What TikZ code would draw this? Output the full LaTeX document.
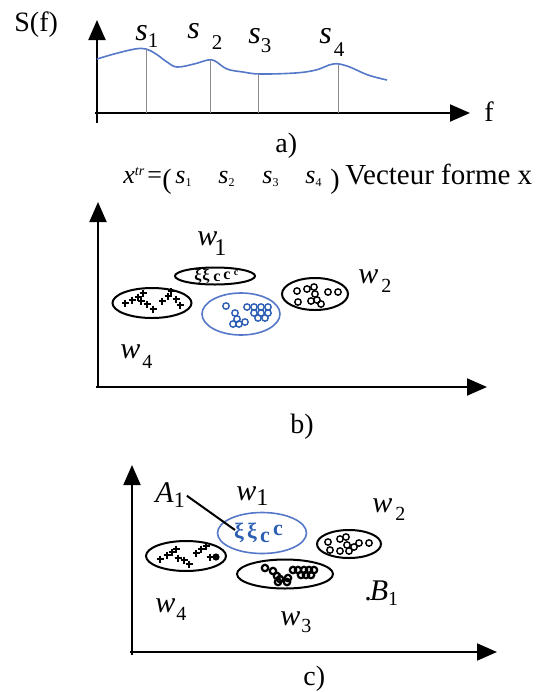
\documentclass[tikz,border=0pt]{standalone}
\usepackage{fontspec}
\setmainfont{Liberation Serif}
\usetikzlibrary{arrows.meta,shapes.geometric}
\definecolor{curveblue}{RGB}{85,120,200}
\definecolor{markblue}{RGB}{45,95,180}
\newcommand{\fs}[1]{\fontsize{#1}{#1}\selectfont}
\begin{document}
\begin{tikzpicture}[x=0.5pt,y=-0.5pt,
  axis/.style={line width=1pt,-{Triangle[length=10pt,width=8.5pt]}},
  guide/.style={black!45,line width=0.4pt},
  spectrum/.style={curveblue,line width=0.8pt},
  clus/.style={ellipse,draw,line width=1pt,inner sep=0pt},
  bclus/.style={clus,draw=curveblue,line width=0.8pt},
  txt/.style={inner sep=0pt,anchor=base west},
  pointer/.style={line width=1pt},
  crossmk/.style={line width=0.8pt},
  circmk/.style={line width=0.7pt},
  glyph/.style={inner sep=0pt,font=\fs{8}\bfseries},
]
\useasboundingbox (0,0) rectangle (544,692);

% ---------------- panel a ----------------
\coordinate (aYb) at (97,123);
\coordinate (aYt) at (97,20);
\coordinate (aXl) at (95,113);
\coordinate (aXt) at (470,113);
\draw[axis] (aYb) -- (aYt);
\draw[axis] (aXl) -- (aXt);
\draw[spectrum] plot[smooth,tension=0.6] coordinates {(97,59) (114,54) (135,49) (146,49) (156,54) (167,62) (177,67) (194,64) (208,60) (215,61) (227,69) (243,72) (260,74) (295,73) (316,70) (333,64) (347,66) (368,75) (387,80)};
\foreach \x/\y [count=\i] in {146/49, 210/60, 258/74, 338/65}{
  \coordinate (gt\i) at (\x,\y);
  \coordinate (gb\i) at (\x,113);
  \draw[guide] (gt\i) -- (gb\i);
}
\node[txt,font=\fs{14}] (Sf) at (14,31) {S(f)};
\node[txt,font=\fs{14}] (flab) at (484,121) {f};
\node[txt,font=\fs{16}] (s1) at (135,40) {\textit{s}\raisebox{-3.5pt}{\fs{10.5}1}};
\node[txt,font=\fs{16}] (s2) at (187,38) {\textit{s}\hspace{6pt}\raisebox{-5.5pt}{\fs{10.5}2}};
\node[txt,font=\fs{16}] (s3) at (248,43) {\textit{s}\raisebox{-4.5pt}{\fs{10.5}3}};
\node[txt,font=\fs{16}] (s4) at (319,43) {\textit{s}\hspace{1pt}\raisebox{-6.5pt}{\fs{10.5}4}};
\node[txt,font=\fs{14}] (la) at (275,152) {a)};

% ---------------- panel b ----------------
\coordinate (bYb) at (98,387);
\coordinate (bYt) at (98,202);
\coordinate (bXl) at (96,387);
\coordinate (bXt) at (487,387);
\draw[axis] (bYb) -- (bYt);
\draw[axis] (bXl) -- (bXt);

\node[txt,font=\fs{13}] (vx) at (123,183) {\textit{x}\raisebox{4pt}{\fs{7}\textit{tr}}};
\node[txt,font=\fs{13}] (veq) at (147,183) {=};
\node[txt,font=\fs{14}] (vlp) at (162,188) {(};
\node[txt,font=\fs{13}] (vs1) at (175,183) {\textit{s}\raisebox{-1.5pt}{\fs{6}1}};
\node[txt,font=\fs{13}] (vs2) at (218,183) {\textit{s}\raisebox{-1.5pt}{\fs{6}2}};
\node[txt,font=\fs{13}] (vs3) at (262,183) {\textit{s}\raisebox{-1.5pt}{\fs{6}3}};
\node[txt,font=\fs{13}] (vs4) at (305,183) {\textit{s}\raisebox{-1.5pt}{\fs{6}4}};
\node[txt,font=\fs{14}] (vrp) at (330,188) {)};
\node[txt,font=\fs{14.5}] (vname) at (345,184) {Vecteur forme x};

\node[clus,minimum width=40pt,minimum height=8.5pt] (bw1) at (215,276) {};
\node[clus,minimum width=39.5pt,minimum height=15pt] (bw4) at (152,303) {};
\node[bclus,minimum width=39pt,minimum height=21pt] (bwb) at (241,314) {};
\node[clus,minimum width=33pt,minimum height=16pt] (bw2) at (315,294) {};

\foreach \x/\y/\t [count=\i] in {198/276/ξ, 206/276/ξ, 217/278/c, 227/276/c, 236/273/\fs{5}c}
  \node[glyph] (bm\i) at (\x,\y) {\t};
\foreach \x/\y in {125/303, 132/300, 138/297, 143/293, 141/301, 147/304, 153/309, 162/301, 168/296, 171/291, 176/299, 180/305}
  \draw[crossmk] (\x,\y) ++(-3.5,0) -- ++(7,0) (\x,\y) ++(0,-3.5) -- ++(0,7);
\foreach \x/\y in {226/306, 235/313, 237/319, 233/324, 239/324, 245/322, 247/307, 254/307, 261/307, 268/307, 254/313, 261/313, 268/313, 258/318, 265/318}
  \draw[circmk,markblue] (\x,\y) circle (1.6pt);
\foreach \x/\y in {297/291, 298/302, 307/289, 314/287, 315/294, 317/300, 321/304, 311/301, 328/292, 338/292}
  \draw[circmk] (\x,\y) circle (1.6pt);

\node[txt,font=\fs{15}] (lbw1) at (197,245) {\textit{w}\hspace{-1.5pt}\raisebox{-5pt}{\fs{12}1}};
\node[txt,font=\fs{15}] (lbw2) at (358,283) {\textit{w}\hspace{1.5pt}\raisebox{-4.5pt}{\fs{10}2}};
\node[txt,font=\fs{15}] (lbw4) at (120,358) {\textit{w}\hspace{1pt}\raisebox{-5pt}{\fs{10}4}};
\node[txt,font=\fs{14}] (lb) at (290,433) {b)};

% ---------------- panel c ----------------
\coordinate (cYb) at (132,655);
\coordinate (cYt) at (132,465);
\coordinate (cXl) at (130,652);
\coordinate (cXt) at (497,652);
\draw[axis] (cYb) -- (cYt);
\draw[axis] (cXl) -- (cXt);

\node[bclus,minimum width=44.5pt,minimum height=20.5pt] (cwb) at (262,533) {};
\node[clus,minimum width=40pt,minimum height=15pt] (cw4) at (186,556) {};
\node[clus,minimum width=48pt,minimum height=14.5pt] (cw3) at (285,574) {};
\node[clus,minimum width=32pt,minimum height=14pt] (cw2) at (349,544) {};

\foreach \x/\y/\t [count=\i] in {239/533/ξ, 252/533/ξ, 265/537/c, 278/530/c}
  \node[glyph,font=\fs{11}\bfseries,text=markblue] (cm\i) at (\x,\y) {\t};
\foreach \x/\y in {160/559, 167/555, 172/552, 176/549, 178/558, 184/560, 189/564, 196/553, 201/549, 206/546, 210/557}
  \draw[crossmk] (\x,\y) ++(-3.5,0) -- ++(7,0) (\x,\y) ++(0,-3.5) -- ++(0,7);
\fill (216,557) circle (1.8pt);
\foreach \x/\y in {328/542, 330/550, 340/539, 346/537, 347/545, 349/551, 354/547, 340/551, 359/543, 369/543}
  \draw[circmk] (\x,\y) circle (1.6pt);
\foreach \x/\y in {265/568, 273/571, 277/576, 280/579, 288/578, 293/570, 298/570, 304/570, 309/570, 314/570, 301/575, 306/575, 311/575, 278/582, 287/582}
  \draw[line width=1.1pt] (\x,\y) circle (1.6pt);

\node[txt,font=\fs{15}] (A1) at (155,502) {\textit{A}\raisebox{-2.5pt}{\fs{11}1}};
\coordinate (a1tip) at (235,530);
\draw[pointer,shorten <=1pt] (A1.east) -- (a1tip);
\node[txt,font=\fs{15}] (lcw1) at (236,500) {\textit{w}\raisebox{-2.5pt}{\fs{12}1}};
\node[txt,font=\fs{15}] (lcw2) at (372,512) {\textit{w}\hspace{1.5pt}\raisebox{-4pt}{\fs{10}2}};
\node[txt,font=\fs{15}] (lB1) at (364,600) {.\hspace{-1pt}\textit{B}\raisebox{-2.5pt}{\fs{10}1}};
\node[txt,font=\fs{15}] (lcw4) at (155,612) {\textit{w}\hspace{0.5pt}\raisebox{-4pt}{\fs{10}4}};
\node[txt,font=\fs{15}] (lcw3) at (280,625) {\textit{w}\hspace{0.5pt}\raisebox{-3.5pt}{\fs{10}3}};
\node[txt,font=\fs{14}] (lc) at (303,685) {c)};
\end{tikzpicture}
\end{document}
